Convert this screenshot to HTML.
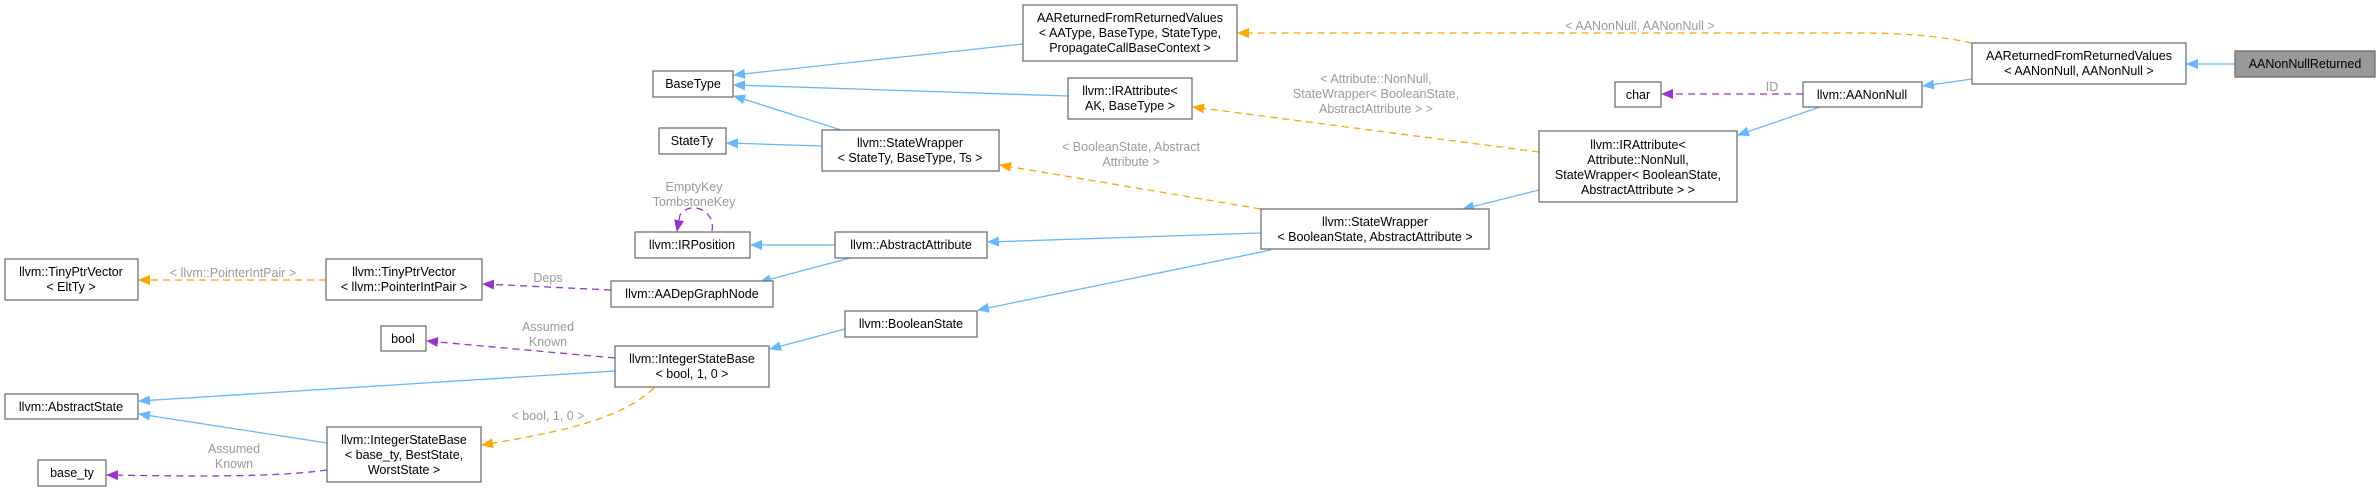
<!DOCTYPE html>
<html><head><meta charset="utf-8"><style>
html,body{margin:0;padding:0;background:#fff;}
svg{display:block;}
text{font-family:"Liberation Sans",sans-serif;font-size:12.5px;}
.n{fill:#fff;stroke:#666;stroke-width:1.2;}
.t{fill:#000;text-anchor:middle;}
.l{fill:#9a9a9a;text-anchor:middle;}
.b{stroke:#63b8ff;stroke-width:1.3;fill:none;}
.o{stroke:#ffa500;stroke-width:1.3;fill:none;stroke-dasharray:7,5;}
.p{stroke:#9a32cd;stroke-width:1.3;fill:none;stroke-dasharray:7,5;}
</style></head><body>
<svg width="2379" height="491" viewBox="0 0 2379 491" xmlns="http://www.w3.org/2000/svg">
<defs>
<marker id="mb" markerWidth="12" markerHeight="10" refX="11" refY="5" orient="auto" markerUnits="userSpaceOnUse"><path d="M0,0 L12,5 L0,10 z" fill="#63b8ff"/></marker>
<marker id="mo" markerWidth="12" markerHeight="10" refX="11" refY="5" orient="auto" markerUnits="userSpaceOnUse"><path d="M0,0 L12,5 L0,10 z" fill="#ffa500"/></marker>
<marker id="mp" markerWidth="12" markerHeight="10" refX="11" refY="5" orient="auto" markerUnits="userSpaceOnUse"><path d="M0,0 L12,5 L0,10 z" fill="#9a32cd"/></marker>
</defs>

<!-- edges -->
<path class="b" d="M2235,64 L2187,64" marker-end="url(#mb)"/>
<path class="b" d="M1972,79 L1923,86" marker-end="url(#mb)"/>
<path class="o" d="M1972,43 C1940,36 1900,33 1860,33 L1238,33" marker-end="url(#mo)"/>
<path class="p" d="M1803,94 L1662,94" marker-end="url(#mp)"/>
<path class="b" d="M1820,107 L1738,135" marker-end="url(#mb)"/>
<path class="b" d="M1539,190 L1463,209" marker-end="url(#mb)"/>
<path class="o" d="M1539,152 L1193,107" marker-end="url(#mo)"/>
<path class="o" d="M1261,209 L1000,165" marker-end="url(#mo)"/>
<path class="b" d="M1261,233 L988,242" marker-end="url(#mb)"/>
<path class="b" d="M1271,250 L978,310" marker-end="url(#mb)"/>
<path class="b" d="M1023,44 L734,75" marker-end="url(#mb)"/>
<path class="b" d="M1068,96 L734,85" marker-end="url(#mb)"/>
<path class="b" d="M841,130 L734,96" marker-end="url(#mb)"/>
<path class="b" d="M822,146 L727,143" marker-end="url(#mb)"/>
<path class="b" d="M835,245 L751,245" marker-end="url(#mb)"/>
<path class="b" d="M850,258 L760,282" marker-end="url(#mb)"/>
<path class="p" d="M712,231 C716,210 690,200 680,215 L677,231" marker-end="url(#mp)"/>
<path class="p" d="M611,290 L483,284" marker-end="url(#mp)"/>
<path class="o" d="M326,280 L139,280" marker-end="url(#mo)"/>
<path class="b" d="M845,329 L770,349" marker-end="url(#mb)"/>
<path class="p" d="M615,358 L427,341" marker-end="url(#mp)"/>
<path class="b" d="M615,371 L139,401" marker-end="url(#mb)"/>
<path class="o" d="M654,388 C620,420 560,432 482,445" marker-end="url(#mo)"/>
<path class="b" d="M327,443 L139,414" marker-end="url(#mb)"/>
<path class="p" d="M327,470 C270,478 180,476 107,475" marker-end="url(#mp)"/>

<!-- edge labels -->
<text class="l" x="1640" y="30">&lt; AANonNull, AANonNull &gt;</text>
<text class="l" x="1772" y="91">ID</text>
<text class="l" x="1376" y="83">&lt; Attribute::NonNull,</text>
<text class="l" x="1376" y="98">StateWrapper&lt; BooleanState,</text>
<text class="l" x="1376" y="113">AbstractAttribute &gt; &gt;</text>
<text class="l" x="1131" y="151">&lt; BooleanState, Abstract</text>
<text class="l" x="1131" y="166">Attribute &gt;</text>
<text class="l" x="694" y="191">EmptyKey</text>
<text class="l" x="694" y="206">TombstoneKey</text>
<text class="l" x="233" y="277">&lt; llvm::PointerIntPair &gt;</text>
<text class="l" x="548" y="282">Deps</text>
<text class="l" x="548" y="331">Assumed</text>
<text class="l" x="548" y="346">Known</text>
<text class="l" x="548" y="420">&lt; bool, 1, 0 &gt;</text>
<text class="l" x="234" y="453">Assumed</text>
<text class="l" x="234" y="468">Known</text>

<!-- nodes -->
<rect class="n" x="2235" y="51" width="140" height="26" style="fill:#999"/>
<text class="t" x="2305" y="68">AANonNullReturned</text>

<rect class="n" x="1972" y="43" width="214" height="41"/>
<text class="t" x="2079" y="60">AAReturnedFromReturnedValues</text>
<text class="t" x="2079" y="75">&lt; AANonNull, AANonNull &gt;</text>

<rect class="n" x="1803" y="82" width="119" height="25"/>
<text class="t" x="1862" y="99">llvm::AANonNull</text>

<rect class="n" x="1615" y="82" width="46" height="25"/>
<text class="t" x="1638" y="99">char</text>

<rect class="n" x="1539" y="131" width="198" height="71"/>
<text class="t" x="1638" y="149">llvm::IRAttribute&lt;</text>
<text class="t" x="1638" y="164">Attribute::NonNull,</text>
<text class="t" x="1638" y="179">StateWrapper&lt; BooleanState,</text>
<text class="t" x="1638" y="194">AbstractAttribute &gt; &gt;</text>

<rect class="n" x="1261" y="209" width="228" height="40"/>
<text class="t" x="1375" y="226">llvm::StateWrapper</text>
<text class="t" x="1375" y="241">&lt; BooleanState, AbstractAttribute &gt;</text>

<rect class="n" x="1023" y="5" width="214" height="56"/>
<text class="t" x="1130" y="22">AAReturnedFromReturnedValues</text>
<text class="t" x="1130" y="37">&lt; AAType, BaseType, StateType,</text>
<text class="t" x="1130" y="52">PropagateCallBaseContext &gt;</text>

<rect class="n" x="1068" y="78" width="124" height="41"/>
<text class="t" x="1130" y="95">llvm::IRAttribute&lt;</text>
<text class="t" x="1130" y="110">AK, BaseType &gt;</text>

<rect class="n" x="822" y="130" width="177" height="41"/>
<text class="t" x="910" y="147">llvm::StateWrapper</text>
<text class="t" x="910" y="162">&lt; StateTy, BaseType, Ts &gt;</text>

<rect class="n" x="835" y="232" width="152" height="26"/>
<text class="t" x="911" y="249">llvm::AbstractAttribute</text>

<rect class="n" x="845" y="311" width="132" height="26"/>
<text class="t" x="911" y="328">llvm::BooleanState</text>

<rect class="n" x="653" y="71" width="80" height="26"/>
<text class="t" x="693" y="88">BaseType</text>

<rect class="n" x="659" y="128" width="67" height="26"/>
<text class="t" x="692" y="145">StateTy</text>

<rect class="n" x="635" y="232" width="115" height="26"/>
<text class="t" x="692" y="249">llvm::IRPosition</text>

<rect class="n" x="611" y="281" width="162" height="26"/>
<text class="t" x="692" y="298">llvm::AADepGraphNode</text>

<rect class="n" x="615" y="346" width="154" height="41"/>
<text class="t" x="692" y="363">llvm::IntegerStateBase</text>
<text class="t" x="692" y="378">&lt; bool, 1, 0 &gt;</text>

<rect class="n" x="326" y="259" width="156" height="41"/>
<text class="t" x="404" y="276">llvm::TinyPtrVector</text>
<text class="t" x="404" y="291">&lt; llvm::PointerIntPair &gt;</text>

<rect class="n" x="381" y="326" width="45" height="25"/>
<text class="t" x="403" y="343">bool</text>

<rect class="n" x="327" y="427" width="154" height="55"/>
<text class="t" x="404" y="444">llvm::IntegerStateBase</text>
<text class="t" x="404" y="459">&lt; base_ty, BestState,</text>
<text class="t" x="404" y="474">WorstState &gt;</text>

<rect class="n" x="5" y="259" width="133" height="41"/>
<text class="t" x="71" y="276">llvm::TinyPtrVector</text>
<text class="t" x="71" y="291">&lt; EltTy &gt;</text>

<rect class="n" x="5" y="394" width="133" height="25"/>
<text class="t" x="71" y="411">llvm::AbstractState</text>

<rect class="n" x="38" y="460" width="68" height="26"/>
<text class="t" x="72" y="477">base_ty</text>
</svg>
</body></html>
